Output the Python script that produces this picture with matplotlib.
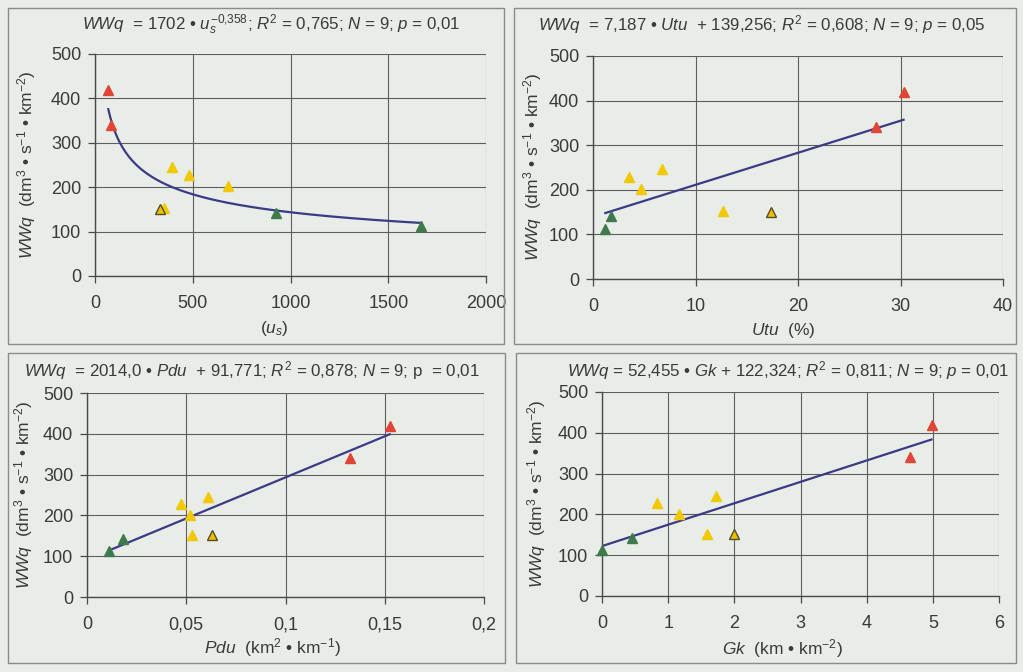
import numpy as np
import matplotlib
matplotlib.use("Agg")
import matplotlib.pyplot as plt
from matplotlib.patches import Rectangle

plt.rcParams['font.family'] = ['Liberation Sans', 'DejaVu Sans']
plt.rcParams['mathtext.fontset'] = 'custom'
plt.rcParams['mathtext.rm'] = 'Liberation Sans'
plt.rcParams['mathtext.it'] = 'Liberation Sans:italic'
plt.rcParams['mathtext.bf'] = 'Liberation Sans:bold'

# ---- data (9 catchments) ----
group = ['red', 'red', 'yellow', 'yellow', 'yellow', 'yellow', 'olive', 'green', 'green']
wwq = [420, 340, 228, 202, 246, 153, 151, 113, 141]
us = [68, 82, 481, 680, 396, 353, 331, 1668, 926]
utu = [30.3, 27.6, 3.5, 4.7, 6.7, 12.7, 17.4, 1.2, 1.8]
pdu = [0.1525, 0.1323, 0.0475, 0.0517, 0.0608, 0.0531, 0.063, 0.0111, 0.0183]
gk = [4.98, 4.66, 0.83, 1.17, 1.72, 1.59, 1.99, 0.0, 0.46]

# regression coefficients given in the panel titles
pow_a, pow_b = 1702, -0.358
lin_utu = (7.187, 139.256)
lin_pdu = (2014.0, 91.771)
lin_gk = (52.455, 122.324)

y_ticks = [0, 100, 200, 300, 400, 500]
us_ticks = [0, 500, 1000, 1500, 2000]
utu_ticks = [0, 10, 20, 30, 40]
pdu_ticks = [0, 0.05, 0.1, 0.15, 0.2]
pdu_labels = ['0', '0,05', '0,1', '0,15', '0,2']
gk_ticks = [0, 1, 2, 3, 4, 5, 6]

titles = [
    r"$\mathit{WWq}$  = 1702 • $\mathit{u}_{\mathit{s}}^{\mathrm{-0{,}358}}$; $\mathit{R}^{2}$ = 0,765; $\mathit{N}$ = 9; $\mathit{p}$ = 0,01",
    r"$\mathit{WWq}$  = 7,187 • $\mathit{Utu}$  + 139,256; $\mathit{R}^{2}$ = 0,608; $\mathit{N}$ = 9; $\mathit{p}$ = 0,05",
    r"$\mathit{WWq}$  = 2014,0 • $\mathit{Pdu}$  + 91,771; $\mathit{R}^{2}$ = 0,878; $\mathit{N}$ = 9; p  = 0,01",
    r"$\mathit{WWq}$ = 52,455 • $\mathit{Gk}$ + 122,324; $\mathit{R}^{2}$ = 0,811; $\mathit{N}$ = 9; $\mathit{p}$ = 0,01",
]
xlabels = [
    r"($\mathit{u}_{\mathit{s}}$)",
    r"$\mathit{Utu}$  (%)",
    r"$\mathit{Pdu}$  (km$^{2}$ • km$^{-1}$)",
    r"$\mathit{Gk}$  (km • km$^{-2}$)",
]
ylabel = r"$\mathit{WWq}$  (dm$^{3}$ • s$^{-1}$ • km$^{-2}$)"

# ---- style ----
BG = '#e8ede8'
TXT = '#3a3a3a'
GRID = '#5e5e5e'
LINE = '#3b3a86'
COL = {'red': ('#e04535', '#e04535'),
       'yellow': ('#f2c800', '#f2c800'),
       'olive': ('#e8c000', '#5a4a30'),
       'green': ('#3f7a4c', '#3f7a4c')}

W, H = 1023, 672
fig = plt.figure(figsize=(W / 100, H / 100), dpi=100, facecolor=BG)


def fx(x):
    return x / W


def fy(y):
    return 1 - y / H


def add_ax(x0, x1, yt, yb):
    return fig.add_axes([x0 / W, (H - yb) / H, (x1 - x0) / W, (yb - yt) / H])


# panel boxes
for (x0, y0, x1, y1) in [(8, 8, 504, 344), (514, 8, 1016, 344),
                         (8, 353, 505, 663), (516, 353, 1016, 663)]:
    fig.patches.append(Rectangle((fx(x0), fy(y1)), (x1 - x0) / W, (y1 - y0) / H,
                                 transform=fig.transFigure, fill=False,
                                 edgecolor='#8c8c8c', linewidth=1.0))

panels = [
    dict(pos=(95, 486, 54, 276), x=us, xlim=(0, 2000), xt=us_ticks, xtl=[str(t) for t in us_ticks],
         title_xy=(271, 25), xl_xy=(274, 328), yl_xy=(27, 165)),
    dict(pos=(593, 1003, 56, 279), x=utu, xlim=(0, 40), xt=utu_ticks, xtl=[str(t) for t in utu_ticks],
         title_xy=(762, 25), xl_xy=(783, 330), yl_xy=(533, 167)),
    dict(pos=(87, 484, 393, 597), x=pdu, xlim=(0, 0.2), xt=pdu_ticks, xtl=pdu_labels,
         title_xy=(252, 371), xl_xy=(272, 648), yl_xy=(24, 495)),
    dict(pos=(602, 999, 392, 596), x=gk, xlim=(0, 6), xt=gk_ticks, xtl=[str(t) for t in gk_ticks],
         title_xy=(788, 371), xl_xy=(782, 649), yl_xy=(537, 494)),
]
fits = ['pow', lin_utu, lin_pdu, lin_gk]

for i, p in enumerate(panels):
    ax = add_ax(*p['pos'])
    ax.set_facecolor('none')
    x = np.array(p['x'], dtype=float)
    # trend line
    xs = np.linspace(x.min(), x.max(), 200)
    if fits[i] == 'pow':
        ys = pow_a * xs ** pow_b
    else:
        ys = fits[i][0] * xs + fits[i][1]
    ax.plot(xs, ys, color=LINE, lw=1.6, zorder=3)
    # markers
    for xi, yi, g in zip(p['x'], wwq, group):
        fc, ec = COL[g]
        ax.plot([xi], [yi], marker='^', ms=7.5, mfc=fc, mec=ec, mew=1.0,
                ls='none', zorder=4, clip_on=False)
    ax.set_xlim(*p['xlim'])
    ax.set_ylim(0, 500)
    ax.set_xticks(p['xt'])
    ax.set_xticklabels(p['xtl'])
    ax.set_yticks(y_ticks)
    ax.set_yticklabels([str(t) for t in y_ticks])
    ax.grid(True, color=GRID, lw=0.8)
    ax.set_axisbelow(True)
    for s in ['top', 'right']:
        ax.spines[s].set_visible(False)
    for s in ['left', 'bottom']:
        ax.spines[s].set_color('#4a4a4a')
        ax.spines[s].set_linewidth(1.0)
    ax.tick_params(axis='both', direction='out', length=5, width=0.9, color='#4a4a4a',
                   labelsize=13, labelcolor=TXT)
    ax.tick_params(axis='x', pad=9)
    ax.tick_params(axis='y', pad=5)
    fig.text(fx(p['title_xy'][0]), fy(p['title_xy'][1]), titles[i], ha='center', va='center',
             fontsize=12.2, color=TXT)
    fig.text(fx(p['xl_xy'][0]), fy(p['xl_xy'][1]), xlabels[i], ha='center', va='center',
             fontsize=12.5, color=TXT)
    fig.text(fx(p['yl_xy'][0]), fy(p['yl_xy'][1]), ylabel, ha='center', va='center',
             rotation=90, fontsize=12.5, color=TXT)

fig.savefig('out.png', dpi=100, facecolor=BG)
